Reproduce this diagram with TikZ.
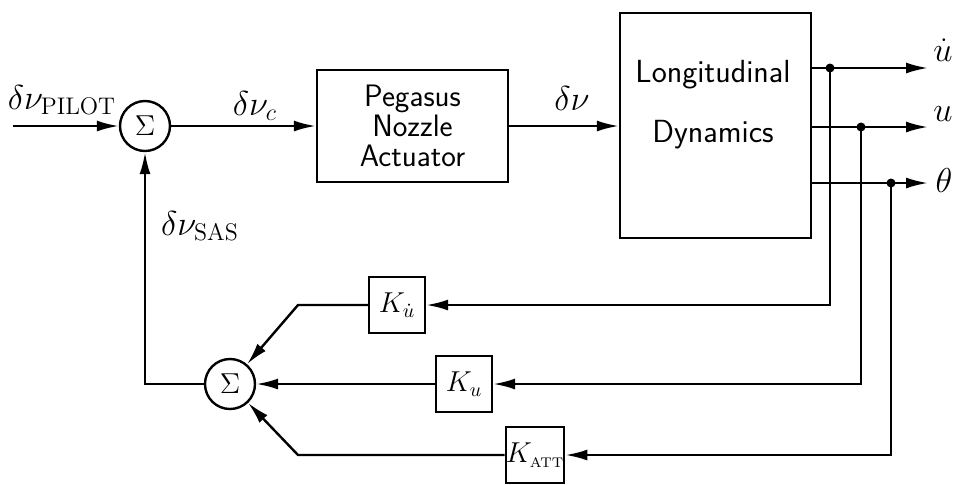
\documentclass[tikz,border=0pt]{standalone}
\usepackage{tikz}
\usetikzlibrary{arrows.meta,positioning}

\begin{document}
\begin{tikzpicture}[x=0.5pt, y=-0.5pt, line width=1.2pt,
  block/.style={draw, line width=1.2pt, align=center, inner sep=2pt},
  boxtext/.style={align=center, font=\sffamily\fontsize{15.5}{15}\selectfont},
  gain/.style={draw, line width=1.2pt, minimum width=28pt, minimum height=28pt, inner sep=0pt, font=\Large},
  sumnode/.style={draw, circle, line width=1.2pt, minimum size=25pt, inner sep=0pt, font=\Large},
  sig/.style={-{Latex[length=11pt,width=5.5pt]}},
  junc/.style={circle, fill, inner sep=0pt, minimum size=4.5pt},
  lbl/.style={font=\LARGE, inner sep=1pt}]
\useasboundingbox (0,0) rectangle (956,484);

% Forward path
\node[sumnode] (sum1) at (145,126) {$\Sigma$};
\node[block, minimum width=95.5pt, minimum height=56pt, boxtext] (act) at (412.5,126) {Pegasus\\Nozzle\\Actuator};
\node[block, minimum width=95.5pt, minimum height=112.5pt] (dyn) at (715.5,125.5) {};
\node[boxtext, font=\sffamily\fontsize{16}{16}\selectfont] (dyntxt) at (713,105) {Longitudinal\\[14pt]Dynamics};

\coordinate (in) at (13,126);
\draw[sig] (in) -- (sum1);
\draw[sig] (sum1) -- (act);
\draw[sig] (act) -- (dyn.west |- act);

\node[lbl] (lpilot) at (62,100) {$\delta\nu_{\mathrm{PILOT}}$};
\node[lbl] (lc) at (255,106) {$\delta\nu_c$};
\node[lbl] (lnu) at (572,98) {$\delta\nu$};

% Outputs
\coordinate (oud) at (928,68);
\coordinate (ou) at (928,127);
\coordinate (oth) at (928,183);
\draw[sig] (dyn.east |- oud) -- (oud);
\draw[sig] (dyn.east |- ou) -- (ou);
\draw[sig] (dyn.east |- oth) -- (oth);
\node[lbl] (lud) at (943,50) {$\dot u$};
\node[lbl] (lu) at (943,114) {$u$};
\node[lbl] (lth) at (944,180) {$\theta$};

\node[junc] (j1) at (830,68) {};
\node[junc] (j2) at (861,127) {};
\node[junc] (j3) at (891,183) {};

% Feedback gains
\node[gain] (kud) at (397,305) {$K_{\dot u}$};
\node[gain] (ku) at (464,384) {$K_u$};
\node[gain] (katt) at (535,455) {$K_{\scriptscriptstyle\mathrm{ATT}}$};
\node[sumnode] (sum2) at (230,384) {$\Sigma$};

\draw[sig] (j1.center) |- (kud);
\draw[sig] (j2.center) |- (ku);
\draw[sig] (j3.center) |- (katt);

\coordinate (c1) at (298,305);
\coordinate (c2) at (298,455);
\draw[sig] (kud) -- (c1) -- (sum2);
\draw[sig] (ku) -- (sum2);
\draw[sig] (katt) -- (c2) -- (sum2);

\draw[sig] (sum2) -| (sum1);
\node[lbl] (lsas) at (200,226) {$\delta\nu_{\mathrm{SAS}}$};
\end{tikzpicture}
\end{document}
